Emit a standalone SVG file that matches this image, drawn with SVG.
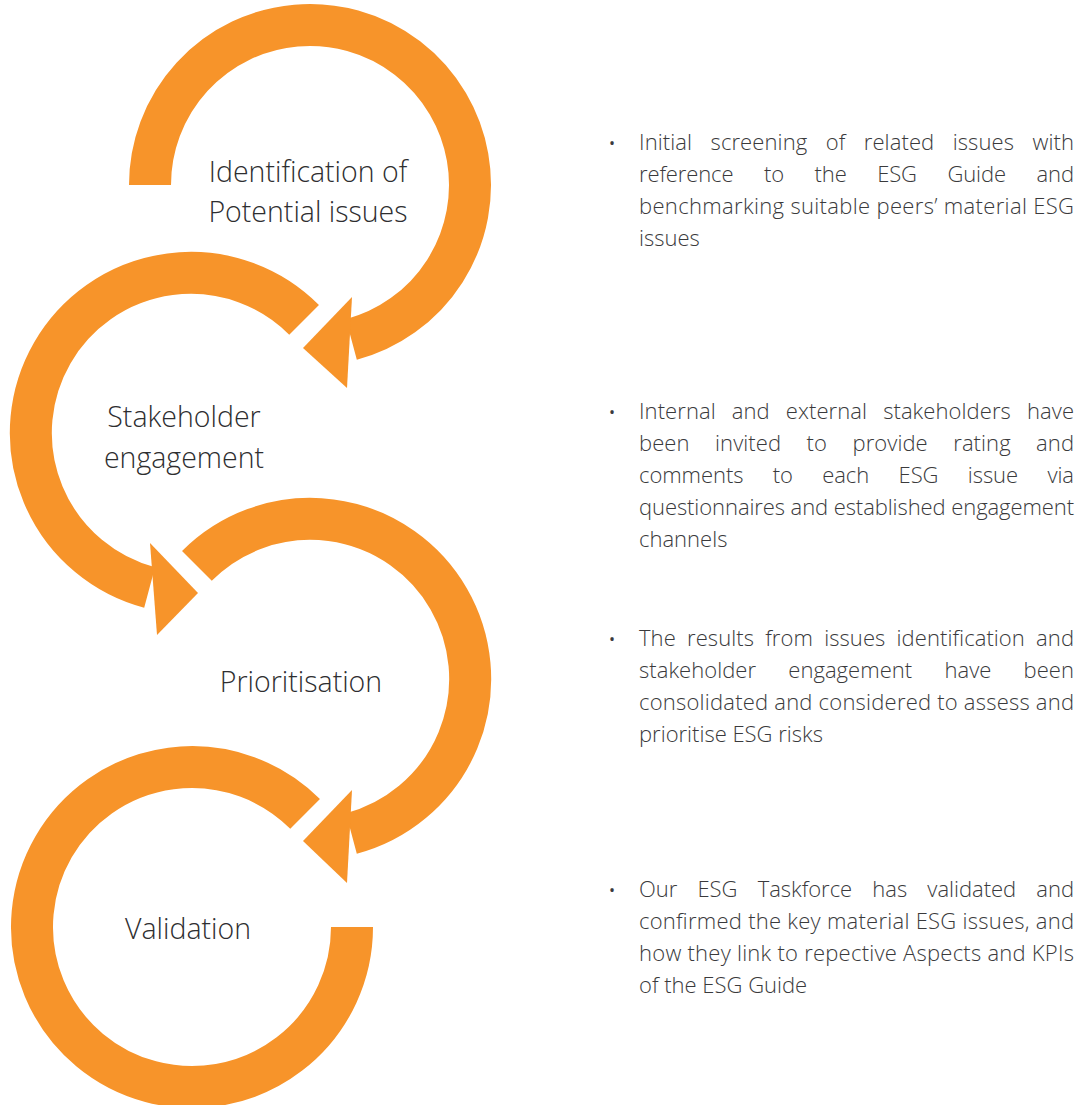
<svg xmlns="http://www.w3.org/2000/svg" width="1082" height="1105" viewBox="0 0 1082 1105">
  <defs>
    <style>
      .ring { fill: none; stroke: #F7942A; stroke-width: 42; stroke-linecap: butt; }
      .head { fill: #F7942A; stroke: none; }
      .label { font-family: "Open Sans", "Liberation Sans", sans-serif; font-weight: 300; font-size: 28.5px; fill: #2e2e30; text-anchor: middle; }
      .para { font-family: "Open Sans", "Liberation Sans", sans-serif; font-weight: 300; font-size: 22px; fill: #3a3a3c; }
      .bullet { font-family: "Open Sans", "Liberation Sans", sans-serif; font-size: 16px; fill: #3a3a3c; }
    </style>
  </defs>

  <rect x="0" y="0" width="1082" height="1105" fill="#ffffff"/>

  <g id="node-identification">
    <path class="ring" d="M 150 185 A 160 160 0 1 1 351.4 339.5"/>
    <text class="label" x="308" y="182">Identification of</text>
    <text class="label" x="308" y="222">Potential issues</text>
  </g>

  <g id="node-stakeholder">
    <path class="ring" d="M 304.1 319.9 A 160 160 0 1 0 149.6 587.5"/>
    <text class="label" x="184" y="427">Stakeholder</text>
    <text class="label" x="184" y="468">engagement</text>
  </g>

  <g id="node-prioritisation">
    <path class="ring" d="M 196.9 565.9 A 160 160 0 1 1 351.4 833.5"/>
    <text class="label" x="301" y="692">Prioritisation</text>
  </g>

  <g id="node-validation">
    <path class="ring" d="M 305.1 813.9 A 160 160 0 1 0 352 927"/>
    <text class="label" x="188" y="939">Validation</text>
  </g>

  <g id="connectors">
    <polygon class="head" points="352,297 303,348 347,388"/>
    <polygon class="head" points="150,543 198,593 157,635"/>
    <polygon class="head" points="352,790 303,841 347,883"/>
  </g>

  <g id="descriptions">
    <g id="desc-identification">
      <text class="bullet" x="609" y="149">•</text>
      <text class="para" x="639" y="150" style="word-spacing:12.6px" textLength="435" lengthAdjust="spacing">Initial screening of related issues with</text>
      <text class="para" x="639" y="182" style="word-spacing:25px" textLength="435" lengthAdjust="spacing">reference to the ESG Guide and</text>
      <text class="para" x="639" y="214" textLength="435" lengthAdjust="spacing">benchmarking suitable peers’ material ESG</text>
      <text class="para" x="639" y="246">issues</text>
    </g>

    <g id="desc-stakeholder">
      <text class="bullet" x="609" y="418">•</text>
      <text class="para" x="639" y="419" style="word-spacing:10.3px" textLength="435" lengthAdjust="spacing">Internal and external stakeholders have</text>
      <text class="para" x="639" y="451" style="word-spacing:19.7px" textLength="435" lengthAdjust="spacing">been invited to provide rating and</text>
      <text class="para" x="639" y="483" style="word-spacing:23.7px" textLength="435" lengthAdjust="spacing">comments to each ESG issue via</text>
      <text class="para" x="639" y="515" textLength="435" lengthAdjust="spacing">questionnaires and established engagement</text>
      <text class="para" x="639" y="547">channels</text>
    </g>

    <g id="desc-prioritisation">
      <text class="bullet" x="609" y="645">•</text>
      <text class="para" x="639" y="646" style="word-spacing:5.4px" textLength="435" lengthAdjust="spacing">The results from issues identification and</text>
      <text class="para" x="639" y="678" style="word-spacing:26.4px" textLength="435" lengthAdjust="spacing">stakeholder engagement have been</text>
      <text class="para" x="639" y="710" textLength="435" lengthAdjust="spacing">consolidated and considered to assess and</text>
      <text class="para" x="639" y="742">prioritise ESG risks</text>
    </g>

    <g id="desc-validation">
      <text class="bullet" x="609" y="896">•</text>
      <text class="para" x="639" y="897" style="word-spacing:14.5px" textLength="435" lengthAdjust="spacing">Our ESG Taskforce has validated and</text>
      <text class="para" x="639" y="929" textLength="435" lengthAdjust="spacing">confirmed the key material ESG issues, and</text>
      <text class="para" x="639" y="961" textLength="435" lengthAdjust="spacing">how they link to repective Aspects and KPIs</text>
      <text class="para" x="639" y="993">of the ESG Guide</text>
    </g>
  </g>
</svg>
